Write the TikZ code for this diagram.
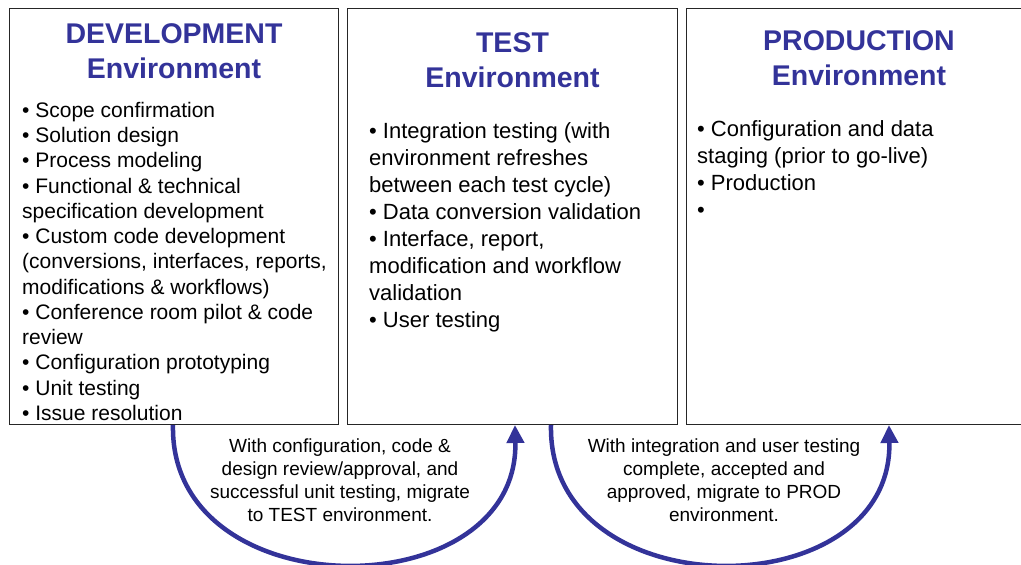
\documentclass[tikz,border=0pt]{standalone}
\usepackage{fontspec}
\setmainfont{Liberation Sans}
\usetikzlibrary{positioning,arrows.meta,calc}
\definecolor{envblue}{RGB}{51,51,153}
\begin{document}
\begin{tikzpicture}[x=1pt, y=-1pt, node distance=8pt]
        \tikzstyle{envbox}=[rectangle,draw=black!85,line width=1pt,minimum width=329pt,minimum height=416pt,inner sep=0pt]
        \tikzstyle{title}=[font=\bfseries\fontsize{28.5}{35}\selectfont,text=envblue,align=center,inner sep=0pt]
        \tikzstyle{items}=[font=\fontsize{22}{27}\selectfont,align=left,inner sep=0pt]
        \tikzstyle{note}=[font=\fontsize{19}{23}\selectfont,align=center,inner sep=0pt,anchor=north]
        \tikzstyle{migrate}=[draw=envblue,line width=4.5pt,-{Triangle[length=18pt,width=17pt]}]

        \useasboundingbox (0,0) rectangle (1021,565);

        \node[envbox, anchor=north west] (dev) at (9,8) {};
        \node[envbox, right=of dev, minimum width=330pt] (test) {};
        \node[envbox, right=of test, minimum width=345pt] (prod) {};

        \node[title, below=15pt of dev.north] (devtitle) {DEVELOPMENT\\Environment};
        \node[title, below=24pt of test.north] (testtitle) {TEST\\Environment};
        \node[title, below=22pt of prod.north] (prodtitle) {PRODUCTION\\Environment};

        \node[items, font=\fontsize{21}{25.25}\selectfont, below right=94pt and 13pt of dev.north west] (devitems) {• Scope confirmation\\• Solution design\\• Process modeling\\• Functional \& technical\\specification development\\• Custom code development\\(conversions, interfaces, reports,\\modifications \& workflows)\\• Conference room pilot \& code\\review\\• Configuration prototyping\\• Unit testing\\• Issue resolution};
        \node[items, below right=114pt and 22pt of test.north west] (testitems) {• Integration testing (with\\environment refreshes\\between each test cycle)\\• Data conversion validation\\• Interface, report,\\modification and workflow\\validation\\• User testing};
        \node[items, below right=112pt and 11pt of prod.north west] (proditems) {• Configuration and data\\staging (prior to go-live)\\• Production\\•};

        \coordinate (devout) at ([xshift=164pt]dev.south west);
        \coordinate (testin) at ([xshift=168pt]test.south west);
        \coordinate (testout) at ([xshift=204pt]test.south west);
        \coordinate (prodin) at ([xshift=203pt]prod.south west);

        \draw[migrate] (devout) .. controls +(-4,185) and +(4,185) .. (testin);
        \draw[migrate] (testout) .. controls +(-4,185) and +(4,185) .. (prodin);

        \node[note, xshift=-4pt] (devnote) at ([yshift=-14pt]$(devout)!0.5!(testin)$) {With configuration, code \&\\design review/approval, and\\successful unit testing, migrate\\to TEST environment.};
        \node[note, xshift=4pt] (testnote) at ([yshift=-14pt]$(testout)!0.5!(prodin)$) {With integration and user testing\\complete, accepted and\\approved, migrate to PROD\\environment.};
    \end{tikzpicture}
\end{document}
